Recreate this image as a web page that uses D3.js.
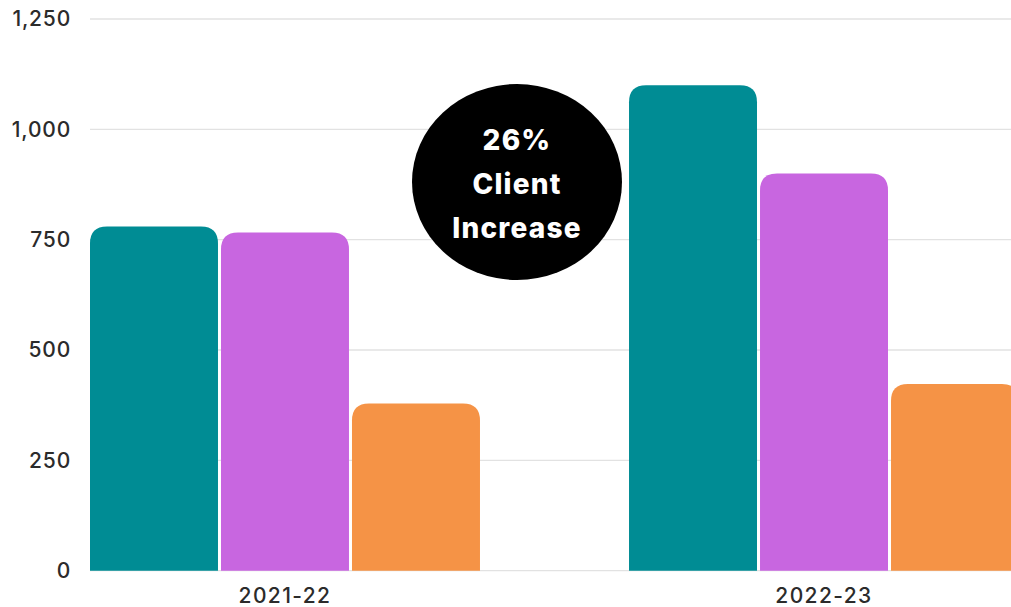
<!DOCTYPE html>
<html>
<head>
<meta charset="utf-8">
<script src="https://cdn.jsdelivr.net/npm/d3@7"></script>
<style>
  html, body { margin: 0; padding: 0; background: #fff; }
  svg { display: block; }
</style>
</head>
<body>
<div id="chart"></div>
<script>
const categories = ["2021-22", "2022-23"];
const seriesNames = ["A", "B", "C"];
const seriesA = [780, 1100];
const seriesB = [766, 900];
const seriesC = [379, 423];
const yTicks = [0, 250, 500, 750, 1000, 1250];
const colors = ["#008c94", "#c866e0", "#f59346"];
const calloutLines = ["26%", "Client", "Increase"];

const W = 1011, H = 607;
const margin = { left: 90, top: 19, bottom: 36 };
const yBase = 570.7;

const svg = d3.select("#chart").append("svg").attr("width", W).attr("height", H);

const y = d3.scaleLinear().domain([0, 1250]).range([yBase, margin.top]);
const x0 = d3.scaleBand().domain(categories).range([90, 1019]).paddingInner(0.2765).paddingOuter(0);
const x1 = d3.scaleBand().domain(seriesNames).range([0, x0.bandwidth()]).paddingInner(0.023).paddingOuter(0);

// gridlines
svg.append("g").selectAll("line").data(yTicks).join("line")
  .attr("x1", 90).attr("x2", W)
  .attr("y1", d => y(d)).attr("y2", d => y(d))
  .attr("stroke", "#e2e2e2").attr("stroke-width", 1.3);

const font = "Inter, 'Noto Sans', sans-serif";

// y axis
const yAxis = d3.axisLeft(y).tickValues(yTicks).tickFormat(d3.format(",")).tickSize(0).tickPadding(0);
const gy = svg.append("g").attr("transform", "translate(71,0)").call(yAxis);
gy.select(".domain").remove();
gy.selectAll("text").attr("font-family", font).attr("font-size", 21)
  .attr("letter-spacing", 0.8)
  .attr("fill", "#2b2b2b").attr("font-weight", 500);

// bars
const data = categories.map((c, i) => ({ cat: c, vals: [seriesA[i], seriesB[i], seriesC[i]] }));
const r = 17;
function topRounded(xp, yp, w, h) {
  const rr = Math.min(r, h, w / 2);
  return `M${xp},${yp + h}V${yp + rr}Q${xp},${yp} ${xp + rr},${yp}H${xp + w - rr}Q${xp + w},${yp} ${xp + w},${yp + rr}V${yp + h}Z`;
}
const groups = svg.append("g").selectAll("g").data(data).join("g")
  .attr("transform", d => `translate(${x0(d.cat)},0)`);
groups.selectAll("path").data(d => d.vals.map((v, j) => ({ v, s: seriesNames[j], j })))
  .join("path")
  .attr("d", d => topRounded(x1(d.s), y(d.v), x1.bandwidth(), yBase - y(d.v)))
  .attr("fill", d => colors[d.j]);

// x axis
const xAxis = d3.axisBottom(x0).tickSize(0).tickPadding(0);
const gx = svg.append("g").attr("transform", `translate(0,${yBase})`).call(xAxis);
gx.select(".domain").remove();
gx.selectAll("text").attr("dy", 0).attr("y", 32)
  .attr("font-family", font).attr("font-size", 21)
  .attr("letter-spacing", 1.4)
  .attr("fill", "#2b2b2b").attr("font-weight", 500);

// callout
const cx = 517, cy = 182;
svg.append("ellipse").attr("cx", cx).attr("cy", cy).attr("rx", 105).attr("ry", 98).attr("fill", "#000");
svg.append("g").selectAll("text").data(calloutLines).join("text")
  .attr("x", cx).attr("y", (d, i) => 150 + i * 44)
  .attr("text-anchor", "middle")
  .attr("font-family", font)
  .attr("font-weight", 800).attr("font-size", 28)
  .attr("letter-spacing", 1.2)
  .attr("fill", "#fff")
  .text(d => d);
</script>
</body>
</html>
